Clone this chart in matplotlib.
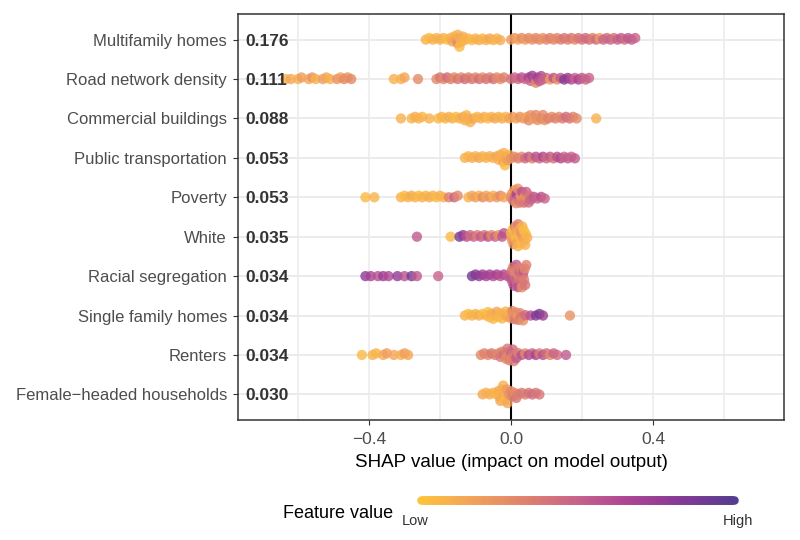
import matplotlib
matplotlib.use("Agg")
import matplotlib.pyplot as plt
import numpy as np
from matplotlib.colors import LinearSegmentedColormap
from matplotlib.collections import LineCollection

plt.rcParams['font.family'] = ['Liberation Sans', 'DejaVu Sans']

# features, top to bottom, with mean |SHAP|
features = ["Multifamily homes", "Road network density", "Commercial buildings",
            "Public transportation", "Poverty", "White", "Racial segregation",
            "Single family homes", "Renters", "Female\u2212headed households"]
importance = ["0.176", "0.111", "0.088", "0.053", "0.053", "0.035", "0.034",
              "0.034", "0.034", "0.030"]

# SHAP values and scaled feature values (0 = low, 1 = high)
multi_shap = [-0.24, -0.23, -0.22, -0.21, -0.20, -0.19, -0.18, -0.17, -0.165, -0.16,
              -0.155, -0.15, -0.15, -0.145, -0.145, -0.14, -0.135, -0.13, -0.12, -0.11,
              -0.10, -0.09, -0.08, -0.07, -0.06, -0.05, -0.04, -0.03,
              0.0, 0.01, 0.02, 0.03, 0.04, 0.05, 0.06, 0.07, 0.08, 0.09,
              0.10, 0.11, 0.12, 0.13, 0.14, 0.15, 0.16, 0.17, 0.18, 0.19,
              0.20, 0.21, 0.22, 0.23, 0.24, 0.25, 0.26, 0.27, 0.28, 0.29,
              0.30, 0.31, 0.32, 0.33, 0.34, 0.35]
multi_val = [0.1, 0.05, 0.1, 0.08, 0.12, 0.1, 0.05, 0.1, 0.15, 0.1,
             0.2, 0.3, 0.1, 0.15, 0.05, 0.1, 0.12, 0.08, 0.1, 0.05,
             0.1, 0.12, 0.08, 0.1, 0.15, 0.1, 0.08, 0.12,
             0.2, 0.25, 0.15, 0.3, 0.2, 0.3, 0.25, 0.3, 0.3, 0.25,
             0.3, 0.35, 0.3, 0.3, 0.35, 0.4, 0.35, 0.4, 0.3, 0.4,
             0.4, 0.45, 0.45, 0.35, 0.45, 0.2, 0.5, 0.45, 0.5, 0.4,
             0.5, 0.55, 0.45, 0.55, 0.55, 0.5]

road_shap = [-0.635, -0.62, -0.60, -0.59, -0.57, -0.56, -0.55, -0.53, -0.52, -0.51,
             -0.49, -0.48, -0.47, -0.46, -0.45,
             -0.33, -0.31, -0.30, -0.262,
             -0.21, -0.20, -0.19, -0.18, -0.17, -0.16, -0.15, -0.14, -0.13, -0.12,
             -0.11, -0.10, -0.09, -0.08, -0.07, -0.06, -0.05, -0.04, -0.03, -0.02,
             0.0, 0.01, 0.02, 0.03, 0.04, 0.05, 0.055, 0.06, 0.065, 0.07,
             0.075, 0.08, 0.085, 0.09, 0.10, 0.11, 0.12, 0.13, 0.14, 0.15,
             0.16, 0.17, 0.18, 0.19, 0.20, 0.21, 0.22]
road_val = [0.1, 0.15, 0.1, 0.2, 0.15, 0.25, 0.1, 0.2, 0.15, 0.1,
            0.25, 0.2, 0.3, 0.25, 0.3,
            0.1, 0.1, 0.15, 0.3,
            0.3, 0.4, 0.3, 0.45, 0.35, 0.3, 0.4, 0.3, 0.45, 0.35,
            0.4, 0.3, 0.45, 0.3, 0.4, 0.35, 0.45, 0.3, 0.3, 0.35,
            0.4, 0.5, 0.45, 0.6, 0.5, 0.7, 0.5, 0.75, 0.6, 0.3,
            0.75, 0.55, 0.65, 0.5, 0.5, 0.2, 0.6, 0.25, 0.55, 0.85,
            0.8, 0.65, 0.5, 0.7, 0.55, 0.5, 0.5]

com_shap = [-0.31, -0.28, -0.27, -0.26, -0.25, -0.23,
            -0.205, -0.195, -0.185, -0.175, -0.165, -0.155, -0.145, -0.135, -0.13, -0.125,
            -0.12, -0.115, -0.105, -0.095, -0.085, -0.075, -0.065, -0.055, -0.045, -0.035,
            -0.025, -0.015, -0.005, 0.005, 0.015, 0.025, 0.035, 0.045, 0.05, 0.055,
            0.065, 0.07, 0.075, 0.085, 0.09, 0.095, 0.105, 0.115, 0.125, 0.135,
            0.145, 0.155, 0.165, 0.175, 0.185, 0.24]
com_val = [0.1, 0.08, 0.12, 0.1, 0.08, 0.1,
           0.05, 0.1, 0.08, 0.12, 0.1, 0.05, 0.1, 0.15, 0.1, 0.08,
           0.12, 0.1, 0.15, 0.08, 0.1, 0.12, 0.05, 0.1, 0.15, 0.1,
           0.12, 0.08, 0.15, 0.2, 0.15, 0.25, 0.2, 0.15, 0.3, 0.25,
           0.2, 0.3, 0.25, 0.3, 0.3, 0.25, 0.35, 0.3, 0.35, 0.3,
           0.35, 0.45, 0.4, 0.35, 0.3, 0.1]

pub_shap = [-0.13, -0.12, -0.11, -0.10, -0.09, -0.08, -0.07, -0.06, -0.05, -0.04,
            -0.035, -0.03, -0.025, -0.022, -0.02, -0.017, -0.015, -0.01, -0.005, 0.0,
            0.01, 0.02, 0.03, 0.04, 0.05, 0.06, 0.07, 0.08, 0.09, 0.10,
            0.11, 0.12, 0.13, 0.14, 0.15, 0.16, 0.17, 0.18]
pub_val = [0.1, 0.08, 0.12, 0.1, 0.15, 0.1, 0.08, 0.12, 0.1, 0.15,
           0.1, 0.12, 0.08, 0.15, 0.1, 0.05, 0.12, 0.2, 0.1, 0.25,
           0.3, 0.35, 0.3, 0.45, 0.55, 0.35, 0.6, 0.5, 0.65, 0.45,
           0.55, 0.4, 0.6, 0.65, 0.5, 0.55, 0.5, 0.55]

pov_shap = [-0.41, -0.385,
            -0.31, -0.30, -0.29, -0.28, -0.27, -0.26, -0.25, -0.24, -0.23, -0.22,
            -0.21, -0.20, -0.19, -0.175, -0.16, -0.15,
            -0.12, -0.11, -0.10, -0.09, -0.08, -0.07, -0.06, -0.05, -0.04, -0.03, -0.02,
            0.0, 0.003, 0.006, 0.009, 0.012, 0.014, 0.016, 0.019, 0.022, 0.025,
            0.028, 0.031, 0.034, 0.037, 0.04, 0.043, 0.046, 0.05, 0.053, 0.057,
            0.065, 0.075, 0.085, 0.095]
pov_val = [0.05, 0.08,
           0.1, 0.05, 0.08, 0.12, 0.1, 0.05, 0.1, 0.08, 0.12, 0.1,
           0.05, 0.1, 0.08, 0.35, 0.5, 0.3,
           0.1, 0.15, 0.2, 0.1, 0.3, 0.15, 0.25, 0.1, 0.2, 0.3, 0.15,
           0.3, 0.25, 0.4, 0.2, 0.5, 0.3, 0.7, 0.25, 0.45, 0.35,
           0.2, 0.6, 0.3, 0.4, 0.25, 0.5, 0.3, 0.45, 0.4, 0.5,
           0.55, 0.5, 0.6, 0.5]

white_shap = [-0.265, -0.17, -0.145, -0.135,
              -0.125, -0.115, -0.105, -0.095, -0.085, -0.075, -0.065, -0.055, -0.045,
              -0.035, -0.025, -0.02,
              0.0, 0.0, 0.003, 0.005, 0.007, 0.01, 0.012, 0.014, 0.016, 0.018,
              0.02, 0.02, 0.022, 0.024, 0.026, 0.028, 0.03, 0.032, 0.034, 0.036,
              0.038, 0.04, 0.042, 0.046]
white_val = [0.55, 0.05, 0.9, 0.8,
             0.6, 0.45, 0.5, 0.35, 0.55, 0.4, 0.6, 0.3, 0.5,
             0.25, 0.55, 0.6,
             0.3, 0.1, 0.2, 0.05, 0.25, 0.1, 0.3, 0.05, 0.15, 0.2,
             0.1, 0.35, 0.05, 0.15, 0.1, 0.25, 0.05, 0.1, 0.2, 0.05,
             0.15, 0.1, 0.05, 0.1]

seg_shap = [-0.41, -0.395, -0.375, -0.36, -0.345, -0.32, -0.30, -0.28, -0.265, -0.205,
            -0.11, -0.10, -0.09, -0.08, -0.07, -0.06, -0.05, -0.04, -0.03, -0.02, -0.01,
            0.0, 0.0, 0.002, 0.004, 0.006, 0.008, 0.01, 0.012, 0.014,
            0.015, 0.017, 0.019, 0.02, 0.022, 0.024, 0.026, 0.028,
            0.03, 0.031, 0.033, 0.035, 0.037, 0.039, 0.04, 0.043]
seg_val = [0.8, 0.7, 0.6, 0.75, 0.65, 0.8, 0.6, 0.9, 0.55, 0.5,
           0.9, 0.85, 0.8, 0.75, 0.7, 0.7, 0.65, 0.7, 0.6, 0.65, 0.55,
           0.5, 0.6, 0.4, 0.55, 0.35, 0.6, 0.45, 0.3, 0.5,
           0.55, 0.35, 0.45, 0.6, 0.3, 0.5, 0.4, 0.35,
           0.45, 0.3, 0.4, 0.55, 0.35, 0.3, 0.4, 0.35]

single_shap = [-0.13, -0.12, -0.11, -0.10, -0.09, -0.08, -0.07, -0.065, -0.06, -0.055,
               -0.05, -0.045, -0.04, -0.035, -0.03, -0.025, -0.02, -0.015, -0.01, -0.005,
               0.0, 0.004, 0.008, 0.011, 0.015, 0.019, 0.022, 0.026, 0.03, 0.034, 0.04,
               0.055, 0.07, 0.08, 0.09, 0.166]
single_val = [0.1, 0.05, 0.1, 0.08, 0.12, 0.05, 0.1, 0.02, 0.08, 0.12,
              0.05, 0.1, 0.15, 0.08, 0.1, 0.05, 0.12, 0.1, 0.15, 0.1,
              0.2, 0.3, 0.25, 0.4, 0.3, 0.2, 0.35, 0.3, 0.4, 0.25, 0.45,
              0.6, 0.85, 0.9, 0.75, 0.25]

rent_shap = [-0.42, -0.39, -0.38, -0.36, -0.35, -0.33, -0.31, -0.30, -0.29,
             -0.085, -0.075, -0.065, -0.055, -0.045, -0.035, -0.03, -0.025, -0.02, -0.015,
             -0.012, -0.01, -0.007, -0.005, 0.0, 0.003, 0.005, 0.008, 0.01, 0.015, 0.02,
             0.03, 0.04, 0.05, 0.06, 0.07, 0.08, 0.09, 0.10, 0.11, 0.12, 0.13, 0.155]
rent_val = [0.05, 0.1, 0.08, 0.12, 0.2, 0.15, 0.1, 0.2, 0.15,
            0.3, 0.35, 0.3, 0.4, 0.35, 0.3, 0.4, 0.35, 0.45, 0.3,
            0.35, 0.4, 0.3, 0.35, 0.5, 0.3, 0.45, 0.35, 0.4, 0.55, 0.35,
            0.6, 0.3, 0.65, 0.5, 0.7, 0.35, 0.6, 0.45, 0.3, 0.5, 0.45, 0.55]

fem_shap = [-0.08, -0.07, -0.06, -0.05, -0.04, -0.035, -0.032, -0.03, -0.027, -0.025,
            -0.022, -0.02, -0.018, -0.015, -0.012, -0.01, -0.005, 0.0, 0.005, 0.01,
            0.015, 0.02, 0.03, 0.04, 0.05, 0.06, 0.07, 0.08]
fem_val = [0.15, 0.1, 0.12, 0.1, 0.08, 0.12, 0.1, 0.15, 0.08, 0.12,
           0.1, 0.15, 0.05, 0.1, 0.2, 0.15, 0.25, 0.3, 0.35, 0.3,
           0.4, 0.35, 0.4, 0.35, 0.4, 0.45, 0.4, 0.4]

shap_rows = [multi_shap, road_shap, com_shap, pub_shap, pov_shap,
             white_shap, seg_shap, single_shap, rent_shap, fem_shap]
val_rows = [multi_val, road_val, com_val, pub_val, pov_val,
            white_val, seg_val, single_val, rent_val, fem_val]

cmap = LinearSegmentedColormap.from_list(
    "shap", ["#FEC43C", "#F3A35A", "#E0836C", "#C8638A", "#AE4593", "#873A95", "#583D8F"])

PX_PER_X = 355.0    # pixels per SHAP unit
PX_PER_ROW = 39.4   # pixels between rows


def swarm_offsets(x, d=3.9, cap=12.5):
    # greedy beeswarm in pixel space: keep dot centres at least d px apart
    xp = np.asarray(x) * PX_PER_X
    order = np.argsort(xp, kind="stable")
    yp = np.zeros(len(xp))
    placed = []
    for i in order:
        blocked = []
        for j in placed:
            dx = abs(xp[i] - xp[j])
            if dx < d:
                h = np.sqrt(d * d - dx * dx)
                blocked.append((yp[j] - h, yp[j] + h))
        cands = sorted([0.0] + [e for b in blocked for e in b], key=abs)
        for c in cands:
            if all(not (lo + 1e-9 < c < hi - 1e-9) for lo, hi in blocked):
                yp[i] = c
                break
        placed.append(i)
    return np.clip(yp, -cap, cap) / PX_PER_ROW


fig = plt.figure(figsize=(8, 5.4), dpi=100)
ax = fig.add_axes([238 / 800, 1 - 420 / 540, 546 / 800, 406 / 540])

ax.set_xlim(-0.769, 0.769)
ax.set_ylim(len(features) + 0.65, 0.35)

# grid
for gx in [-0.6, -0.4, -0.2, 0.2, 0.4, 0.6]:
    ax.axvline(gx, color="#EBEBEB", lw=1.1, zorder=0)
for gy in range(1, len(features) + 1):
    ax.axhline(gy, color="#EBEBEB", lw=1.4, zorder=0)
ax.axvline(0, color="black", lw=1.5, zorder=1)

for i, (xs, vs) in enumerate(zip(shap_rows, val_rows)):
    y = i + 1 + swarm_offsets(xs)
    ax.scatter(xs, y, c=vs, cmap=cmap, vmin=0, vmax=1, s=55, alpha=0.8,
               linewidths=0, zorder=2)
    ax.text(-0.748, i + 1, importance[i], ha="left", va="center_baseline",
            fontsize=12.5, fontweight="bold", color="#333333", zorder=5)

ax.set_yticks(range(1, len(features) + 1))
ax.set_yticklabels(features, fontsize=12, color="#4D4D4D")
ax.set_xticks([-0.4, 0.0, 0.4])
ax.set_xticklabels(["\u22120.4", "0.0", "0.4"], fontsize=12.5, color="#4D4D4D")
ax.tick_params(axis="both", length=3.5, width=0.8, color="#333333", pad=5)
ax.tick_params(axis="y", pad=4.5)
ax.set_xlabel("SHAP value (impact on model output)", fontsize=13.5, labelpad=5)
for s in ax.spines.values():
    s.set_color("#333333")
    s.set_linewidth(1.1)

# colour bar legend
cax = fig.add_axes([415 / 800, 1 - 510 / 540, 325 / 800, 20 / 540])
cax.set_xlim(-0.02, 1.02)
cax.set_ylim(-1, 1)
cax.axis("off")
n = 200
pts = np.linspace(0, 1, n + 1)
segs = [[(pts[k], 0), (pts[k + 1], 0)] for k in range(n)]
lc = LineCollection(segs, colors=cmap((pts[:-1] + pts[1:]) / 2), linewidths=6.2,
                    capstyle="round")
cax.add_collection(lc)
fig.text(415 / 800, 1 - 521 / 540, "Low", ha="center", va="center", fontsize=10.5, color="#333333")
fig.text(738 / 800, 1 - 521 / 540, "High", ha="center", va="center", fontsize=10.5, color="#333333")
fig.text(393 / 800, 1 - 514 / 540, "Feature value", ha="right", va="center", fontsize=13)

fig.savefig("out.png", dpi=100)
